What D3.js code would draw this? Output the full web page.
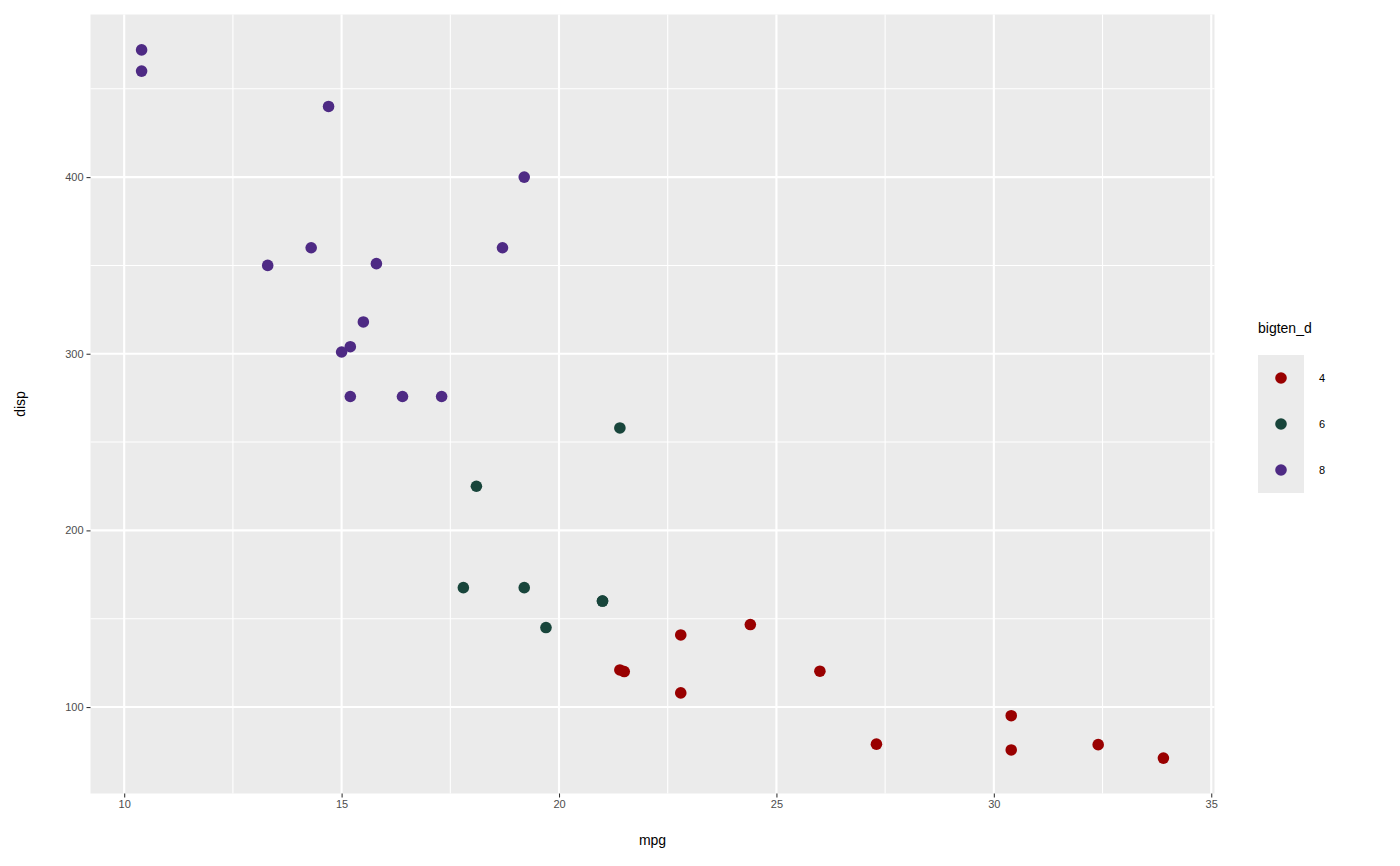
<!DOCTYPE html>
<html><head><meta charset="utf-8">
<script src="https://cdn.jsdelivr.net/npm/d3@7"></script>
<style>body{margin:0;background:#fff}svg{display:block;font-family:"Liberation Sans",Arial,sans-serif}</style>
</head><body><svg id="c" width="1400" height="866"></svg>
<script>
const mpg  = [21.0,21.0,22.8,21.4,18.7,18.1,14.3,24.4,22.8,19.2,17.8,16.4,17.3,15.2,10.4,10.4,14.7,32.4,30.4,33.9,21.5,15.5,15.2,13.3,19.2,27.3,26.0,30.4,15.8,19.7,15.0,21.4];
const disp = [160,160,108,258,360,225,360,146.7,140.8,167.6,167.6,275.8,275.8,275.8,472,460,440,78.7,75.7,71.1,120.1,318,304,350,400,79,120.3,95.1,351,145,301,121];
const cyl  = [6,6,4,6,8,6,8,4,4,6,6,8,8,8,8,8,8,4,4,4,4,8,8,8,8,4,4,4,8,6,8,4];
const legendLevels = ["4","6","8"];
const levelColors = ["#990000","#18453B","#4E2A84"];
const xTicks = [10,15,20,25,30,35];
const yTicks = [100,200,300,400];
const xMinor = [12.5,17.5,22.5,27.5,32.5];
const yMinor = [150,250,350,450];

const svg = d3.select("#c");
const L=90.5, R=1214.5, T=14.5, B=793.5;
const xr = d3.extent(mpg), yr = d3.extent(disp);
const xp = (xr[1]-xr[0])*0.05, yp=(yr[1]-yr[0])*0.05;
const x = d3.scaleLinear().domain([xr[0]-xp, xr[1]+xp]).range([L,R]);
const y = d3.scaleLinear().domain([yr[0]-yp, yr[1]+yp]).range([B,T]);
const color = d3.scaleOrdinal().domain(legendLevels).range(levelColors);

svg.append("rect").attr("x",L).attr("y",T).attr("width",R-L).attr("height",B-T).attr("fill","#EBEBEB");
const g = svg.append("g");
g.selectAll(".xm").data(xMinor).join("line").attr("x1",d=>x(d)).attr("x2",d=>x(d)).attr("y1",T).attr("y2",B).attr("stroke","#fff").attr("stroke-width",1.07);
g.selectAll(".ym").data(yMinor).join("line").attr("y1",d=>y(d)).attr("y2",d=>y(d)).attr("x1",L).attr("x2",R).attr("stroke","#fff").attr("stroke-width",1.07);
g.selectAll(".xM").data(xTicks).join("line").attr("x1",d=>x(d)).attr("x2",d=>x(d)).attr("y1",T).attr("y2",B).attr("stroke","#fff").attr("stroke-width",2.13);
g.selectAll(".yM").data(yTicks).join("line").attr("y1",d=>y(d)).attr("y2",d=>y(d)).attr("x1",L).attr("x2",R).attr("stroke","#fff").attr("stroke-width",2.13);

const xa = svg.append("g").attr("transform",`translate(0,${B})`).call(d3.axisBottom(x).tickValues(xTicks).tickSize(4).tickPadding(3).tickFormat(d3.format("d")));
const ya = svg.append("g").attr("transform",`translate(${L},0)`).call(d3.axisLeft(y).tickValues(yTicks).tickSize(4).tickPadding(3).tickFormat(d3.format("d")));
[xa,ya].forEach(a=>{a.select(".domain").remove();a.selectAll(".tick line").attr("stroke","#333").attr("stroke-width",1.07);a.selectAll("text").attr("fill","#4D4D4D").attr("font-size","11px").attr("font-family","Liberation Sans, Arial, sans-serif");});

svg.append("g").selectAll("circle").data(mpg.map((m,i)=>({m,d:disp[i],c:String(cyl[i])}))).join("circle")
 .attr("cx",d=>x(d.m)).attr("cy",d=>y(d.d)).attr("r",5.8).attr("fill",d=>color(d.c));

svg.append("text").attr("x",(L+R)/2).attr("y",845).attr("text-anchor","middle").attr("font-size","14px").attr("fill","#000").text("mpg");
svg.append("text").attr("transform",`translate(25,${(T+B)/2}) rotate(-90)`).attr("text-anchor","middle").attr("font-size","14px").attr("fill","#000").text("disp");

const lg = svg.append("g");
lg.append("text").attr("x",1258).attr("y",333).attr("font-size","14px").attr("fill","#000").text("bigten_d");
lg.append("rect").attr("x",1258).attr("y",355).attr("width",46).attr("height",138).attr("fill","#EBEBEB");
legendLevels.forEach((l,i)=>{
  const cy = 378 + i*46;
  lg.append("circle").attr("cx",1281).attr("cy",cy).attr("r",5.8).attr("fill",color(l));
  lg.append("text").attr("x",1319).attr("y",cy+4).attr("font-size","11px").attr("fill","#000").text(l);
});
</script></body></html>
